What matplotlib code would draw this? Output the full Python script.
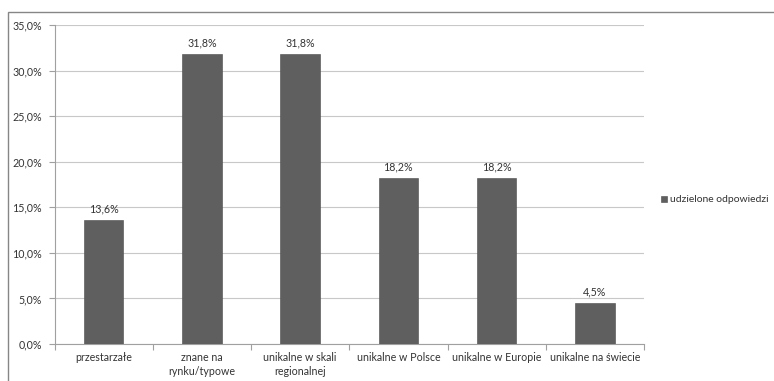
import matplotlib
matplotlib.use("Agg")
import matplotlib.pyplot as plt
from matplotlib.patches import Rectangle
from matplotlib.ticker import MultipleLocator, FuncFormatter

categories = ["przestarzałe", "znane na\nrynku/typowe", "unikalne w skali\nregionalnej",
              "unikalne w Polsce", "unikalne w Europie", "unikalne na świecie"]
values = [13.6, 31.8, 31.8, 18.2, 18.2, 4.5]
series_name = "udzielone odpowiedzi"

plt.rcParams['font.family'] = ['Lato', 'DejaVu Sans']

fig = plt.figure(figsize=(7.74, 3.81), dpi=100)
fig.patches.append(Rectangle((8/774, -0.01), 1.0, 1 - 12/381 + 0.01, transform=fig.transFigure,
                             fill=False, edgecolor='#868686', linewidth=1.0))

ax = fig.add_axes([54.5/774, 1 - 344/381, (644 - 54.5)/774, (344 - 25)/381])
x = list(range(len(categories)))
bars = ax.bar(x, values, width=0.4, color='#5f5f5f', edgecolor='#4a4a4a', linewidth=0.4,
              label=series_name, zorder=3)
for xi, v in zip(x, values):
    ax.text(xi, v + 0.6, f"{v:.1f}%".replace('.', ','), ha='center', va='bottom',
            fontsize=7.7, color='#333333')

ax.set_xlim(-0.5, len(categories) - 0.5)
ax.set_ylim(0, 35)
ax.yaxis.set_major_locator(MultipleLocator(5))
ax.yaxis.set_major_formatter(FuncFormatter(lambda v, p: f"{v:.1f}%".replace('.', ',')))
ax.grid(axis='y', color='#c8c8c8', linewidth=0.8, zorder=0)
ax.set_xticks(x)
ax.set_xticklabels(categories, fontsize=7.7, color='#333333', linespacing=1.25)
ax.tick_params(axis='x', length=0, pad=6)
ax.set_xticks([i - 0.5 for i in range(len(categories) + 1)], minor=True)
ax.tick_params(axis='x', which='minor', length=4, color='#a0a0a0', width=0.8)
ax.tick_params(axis='y', length=4, color='#a0a0a0', width=0.8, labelsize=7.7,
               labelcolor='#333333', pad=5)
for s in ['top', 'right']:
    ax.spines[s].set_visible(False)
ax.spines['left'].set_color('#a0a0a0')
ax.spines['bottom'].set_color('#a0a0a0')
ax.spines['left'].set_linewidth(0.8)
ax.spines['bottom'].set_linewidth(0.8)

fig.legend(handles=[bars], labels=[series_name], loc='center left',
           bbox_to_anchor=(661/774, 1 - 200/381), frameon=False, fontsize=7.5,
           borderpad=0, borderaxespad=0,
           handlelength=0.6, handleheight=0.6, handletextpad=0.3, labelcolor='#333333')

fig.savefig("out.png", dpi=100)
